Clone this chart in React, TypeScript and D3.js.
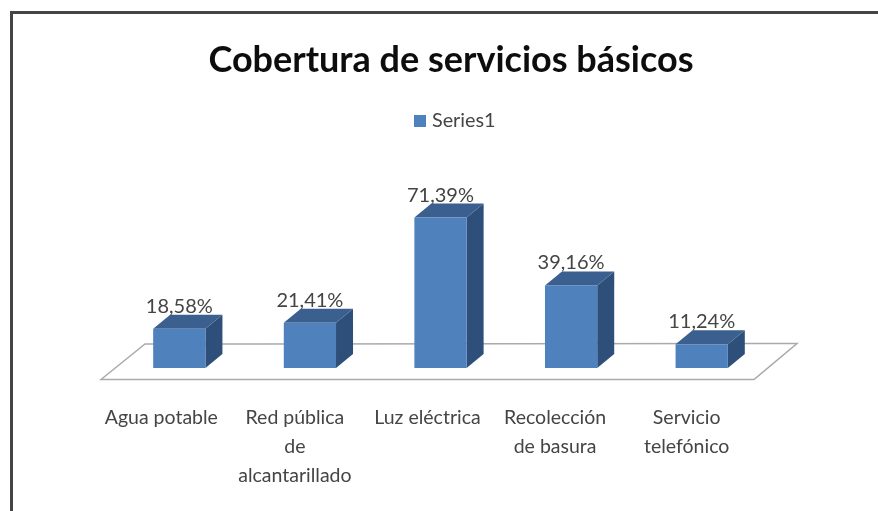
import React from "react";
import * as d3 from "d3";

const categories = ["Agua potable", "Red pública de alcantarillado", "Luz eléctrica", "Recolección de basura", "Servicio telefónico"];
const categoryLines = [["Agua potable"], ["Red pública", "de", "alcantarillado"], ["Luz eléctrica"], ["Recolección", "de basura"], ["Servicio", "telefónico"]];
const values = [18.58, 21.41, 71.39, 39.16, 11.24];
const valueLabels = ["18,58%", "21,41%", "71,39%", "39,16%", "11,24%"];
const seriesName = "Series1";
const title = "Cobertura de servicios básicos";

const W = 878, H = 511;
const FONT = "Lato, 'Open Sans', sans-serif";
const x = d3.scaleBand<string>().domain(categories).range([114, 767]).paddingInner(0.6).paddingOuter(0.3);
const y = d3.scaleLinear().domain([0, 71.39]).range([368, 217.5]);
const DX = 17, DY = -14;
const floorPath = d3.line()([[101, 379.5], [145, 344], [797, 343.5], [754, 379.5]]) + "Z";
const labelOffsets = [-18, -15, -13, -16, -15];

export default function App() {
  return (
    <svg width={W} height={H} style={{ position: "absolute", left: 0, top: 0, background: "#fff" }}>
      <defs>
        <filter id="blurText" x="-5%" y="-20%" width="110%" height="140%"><feGaussianBlur stdDeviation="0.6" /></filter>
        <filter id="blurMark" x="-5%" y="-5%" width="110%" height="110%"><feGaussianBlur stdDeviation="0.5" /></filter>
      </defs>
      <path d={`M11.5,511V12.5H878`} fill="none" stroke="#444" strokeWidth={3} filter="url(#blurMark)" />
      <text x={451} y={72} textAnchor="middle" fontFamily={FONT} fontWeight={700} fontSize={36} fill="#111" filter="url(#blurText)">{title}</text>
      <g filter="url(#blurMark)">
        <rect x={414} y={115} width={12} height={12} fill="#4f81bd" />
      </g>
      <text x={432} y={127} fontFamily={FONT} fontSize={19.8} fill="#444" filter="url(#blurText)">{seriesName}</text>
      <path d={floorPath} fill="#fff" stroke="#aaa" strokeWidth={1.5} filter="url(#blurMark)" />
      <g filter="url(#blurMark)">
        {categories.map((c, i) => {
          const x0 = x(c)!, x1 = x0 + x.bandwidth(), yT = y(values[i]), yB = y(0);
          return (
            <g key={c}>
              <path d={d3.line()([[x1, yB], [x1 + DX, yB + DY], [x1 + DX, yT + DY], [x1, yT]]) + "Z"} fill="#2f5079" />
              <path d={d3.line()([[x0, yT], [x0 + DX, yT + DY], [x1 + DX, yT + DY], [x1, yT]]) + "Z"} fill="#3a6090" />
              <rect x={x0} y={yT} width={x.bandwidth()} height={yB - yT} fill="#4f81bd" />
            </g>
          );
        })}
      </g>
      <g filter="url(#blurText)" fontFamily={FONT} fill="#444">
        {categories.map((c, i) => (
          <text key={c} x={x(c)! + x.bandwidth() / 2} y={y(values[i]) - 16} textAnchor="middle" fontSize={20}>{valueLabels[i]}</text>
        ))}
        {categories.map((c, i) => (
          <text key={c} textAnchor="middle" fontSize={19.5}>
            {categoryLines[i].map((l, j) => (
              <tspan key={l} x={x(c)! + x.bandwidth() / 2 + labelOffsets[i]} y={424 + j * 29}>{l}</tspan>
            ))}
          </text>
        ))}
      </g>
    </svg>
  );
}
